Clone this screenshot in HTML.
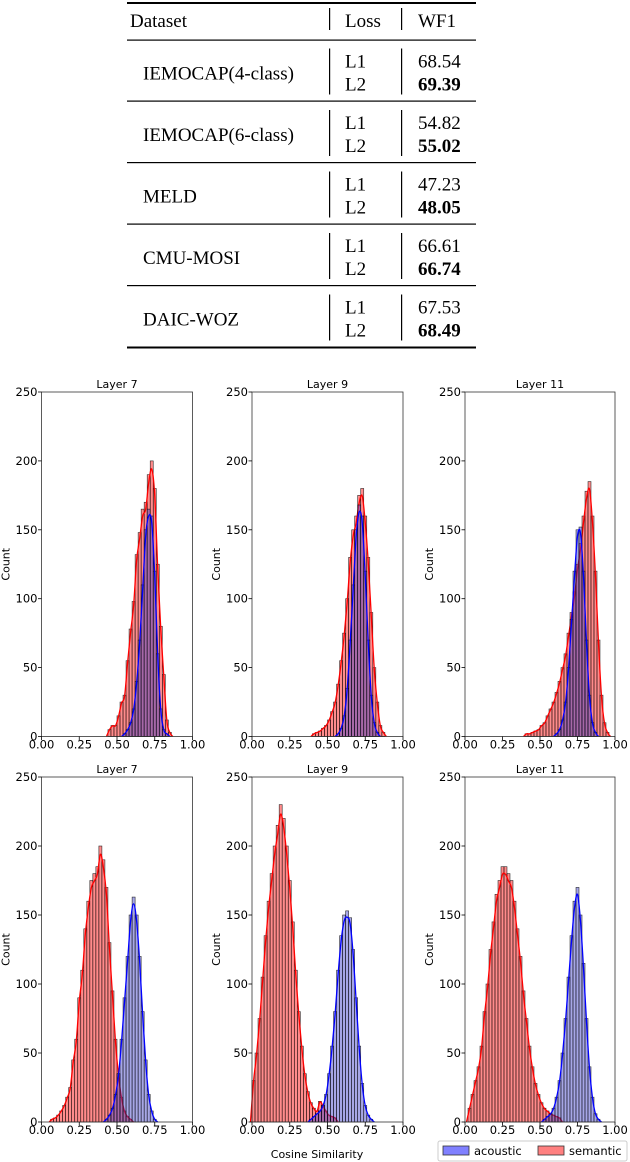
<!DOCTYPE html>
<html><head><meta charset="utf-8"><style>
html,body{margin:0;padding:0;background:#fff;}
svg{display:block;}
.tb{font-family:"Liberation Serif",serif;font-size:19px;fill:#000;}
.tk{font-family:"DejaVu Sans",sans-serif;font-size:11.5px;fill:#000;}
.tt{font-family:"DejaVu Sans",sans-serif;font-size:11px;fill:#000;}
</style></head><body>
<svg id="root" width="630" height="1162" viewBox="0 0 630 1162">
<g>
<rect x="127" y="2" width="349" height="2" fill="#000"/>
<rect x="127" y="39.5" width="349" height="1.2" fill="#000"/>
<rect x="127" y="100.5" width="349" height="1.2" fill="#000"/>
<rect x="127" y="162" width="349" height="1.2" fill="#000"/>
<rect x="127" y="223.5" width="349" height="1.2" fill="#000"/>
<rect x="127" y="285" width="349" height="1.2" fill="#000"/>
<rect x="127" y="346.5" width="349" height="2" fill="#000"/>
<text class="tb" x="130" y="27">Dataset</text>
<text class="tb" x="345" y="27">Loss</text>
<text class="tb" x="418" y="27">WF1</text>
<g id="rows"></g>
</g>
<g id="charts"></g>
<g>
<rect x="438" y="1141" width="189" height="20" fill="#fff" stroke="#ccc" rx="2"/>
<rect x="443" y="1146" width="26" height="9" fill="#8080ff" stroke="#333" stroke-width="0.8"/>
<text class="tk" x="474" y="1155">acoustic</text>
<rect x="538" y="1146" width="26" height="9" fill="#ff8080" stroke="#333" stroke-width="0.8"/>
<text class="tk" x="569" y="1155">semantic</text>
</g>
<text class="tt" x="317" y="1158" text-anchor="middle">Cosine Similarity</text>
</svg>
<script>
var NS="http://www.w3.org/2000/svg";
var datasets=["IEMOCAP(4-class)","IEMOCAP(6-class)","MELD","CMU-MOSI","DAIC-WOZ"];
var l1Scores=["68.54","54.82","47.23","66.61","67.53"];
var l2Scores=["69.39","55.02","48.05","66.74","68.49"];

var binWidth=0.02;
var xTicks=["0.00","0.25","0.50","0.75","1.00"];
var yTicks=[0,50,100,150,200,250];
var titles=["Layer 7","Layer 9","Layer 11","Layer 7","Layer 9","Layer 11"];
var semStart=[0.44,0.40,0.40,0.06,0.00,0.02];
var acoStart=[0.54,0.56,0.60,0.42,0.38,0.52];
var sem0=[5,8,8,15,25,30,55,78,98,132,148,165,170,190,200,180,125,80,45,12,3];
var aco0=[2,5,10,20,40,70,110,150,165,160,120,60,20,5,2];
var sem1=[2,3,4,6,8,12,18,25,38,55,75,100,130,150,160,175,180,160,130,90,50,25,8,3];
var aco1=[2,6,15,35,70,110,150,168,160,120,70,30,10,3];
var sem2=[2,2,3,4,5,8,10,15,20,25,32,40,50,60,75,90,105,125,140,160,178,185,160,120,70,30,10,3];
var aco2=[2,5,12,25,50,85,120,150,152,120,70,30,10,3];
var sem3=[2,3,5,8,12,18,25,45,60,90,110,140,160,175,180,185,200,190,170,130,95,60,35,18,8,4,2];
var aco3=[2,5,10,20,35,60,90,120,150,163,150,120,80,45,20,8,2];
var sem4=[30,50,75,105,135,160,180,200,215,230,220,200,175,145,110,80,55,35,22,14,10,8,15,12,8,5,4,3];
var aco4=[2,4,6,8,12,20,35,55,80,110,135,150,153,148,125,90,55,28,12,5,2];
var sem5=[10,20,30,40,55,80,100,125,145,165,175,185,185,180,175,160,140,120,95,75,55,40,28,20,14,10,8,6,5,4,3];
var aco5=[2,4,6,10,18,30,50,75,105,135,160,170,150,115,75,40,18,6,2];
var semSeries=[sem0,sem1,sem2,sem3,sem4,sem5];
var acoSeries=[aco0,aco1,aco2,aco3,aco4,aco5];

function mk(tag,attrs,parent){var e=document.createElementNS(NS,tag);for(var k in attrs)e.setAttribute(k,attrs[k]);parent.appendChild(e);return e;}

var rows=document.getElementById('rows');
datasets.forEach(function(d,i){
  var y0=40.5+i*61.5;
  var t=mk('text',{'class':'tb',x:143,y:y0+39},rows);t.textContent=d;
  
  
  var a=mk('text',{'class':'tb',x:345,y:y0+27},rows);a.textContent="L1";
  
  
  var b=mk('text',{'class':'tb',x:345,y:y0+50},rows);b.textContent="L2";
  
  
  var c=mk('text',{'class':'tb',x:418,y:y0+27},rows);c.textContent=l1Scores[i];
  
  
  var e=mk('text',{'class':'tb',x:418,y:y0+50,'font-weight':'bold'},rows);e.textContent=l2Scores[i];
  
  
});
[[329,4,38],[401,4,38]].forEach(function(v){var r=mk('rect',{x:v[0],y:v[1]+4,width:1.2,height:22,fill:'#000'},rows);});
for(var i=0;i<5;i++){var y0=40.5+i*61.5;[329,401].forEach(function(x){var r=mk('rect',{x:x,y:y0+8,width:1.2,height:46,fill:'#000'},rows);});}

var panelX=[[41.5,192.5],[252,403],[465,615]];
var panelY=[[392,736.5],[777,1122]];
var charts=document.getElementById('charts');

function smoothPath(pts){
  var d="M"+pts[0][0]+","+pts[0][1];
  for(var i=0;i<pts.length-1;i++){
    var p0=pts[Math.max(0,i-1)],p1=pts[i],p2=pts[i+1],p3=pts[Math.min(pts.length-1,i+2)];
    var c1x=p1[0]+(p2[0]-p0[0])/6,c1y=p1[1]+(p2[1]-p0[1])/6;
    var c2x=p2[0]-(p3[0]-p1[0])/6,c2y=p2[1]-(p3[1]-p1[1])/6;
    d+=" C"+c1x+","+c1y+" "+c2x+","+c2y+" "+p2[0]+","+p2[1];
  }
  return d;
}

for(var p=0;p<6;p++){
  var col=p%3,row=Math.floor(p/3);
  var x0=panelX[col][0],x1=panelX[col][1],yt=panelY[row][0],yb=panelY[row][1];
  var xs=function(v){return x0+v*(x1-x0);};
  var ys=function(v){return yb-v/250*(yb-yt);};
  var g=mk('g',{},charts);
  
  
  [[semSeries[p],semStart[p],'rgba(255,0,0,0.45)','#ff0000','semantic'],[acoSeries[p],acoStart[p],'rgba(60,60,200,0.45)','#0000ff','acoustic']].forEach(function(s){
    var pts=[];
    s[0].forEach(function(c,k){
      var lo=s[1]+k*binWidth;
      var r=mk('rect',{x:xs(lo),y:ys(c),width:xs(lo+binWidth)-xs(lo),height:ys(0)-ys(c),fill:s[2],stroke:'#000','stroke-width':0.6,'stroke-opacity':0.8},g);
      
      
      pts.push([xs(lo+binWidth/2),ys(c*0.97)]);
    });
    pts.unshift([xs(s[1]-binWidth/2),ys(0)]);
    pts.push([xs(s[1]+(s[0].length+0.5)*binWidth),ys(0)]);
    var l=mk('path',{d:smoothPath(pts),fill:'none',stroke:s[3],'stroke-width':1.3},g);
    
    
  });
  var fr=mk('rect',{x:x0,y:yt,width:x1-x0,height:yb-yt,fill:'none',stroke:'#333','stroke-width':0.8},g);
  
  
  xTicks.forEach(function(t,k){
    var xv=xs(k*0.25);
    var tl=mk('line',{x1:xv,x2:xv,y1:yb,y2:yb+3.5,stroke:'#000','stroke-width':0.8},g);
    
    
    var tx=mk('text',{'class':'tk',x:xv,y:yb+12,'text-anchor':'middle'},g);tx.textContent=t;
    
    
  });
  yTicks.forEach(function(t){
    var yv=ys(t);
    var tl=mk('line',{x1:x0-3.5,x2:x0,y1:yv,y2:yv,stroke:'#000','stroke-width':0.8},g);
    
    
    var tx=mk('text',{'class':'tk',x:x0-4,y:yv+4,'text-anchor':'end'},g);tx.textContent=t;
    
    
  });
  var ti=mk('text',{'class':'tt',x:(x0+x1)/2,y:yt-4,'text-anchor':'middle'},g);ti.textContent=titles[p];
  
  
  var yl=mk('text',{'class':'tt',x:0,y:0,'text-anchor':'middle',transform:'translate('+(x0-32)+','+((yt+yb)/2)+') rotate(-90)'},g);yl.textContent="Count";
  
  
}
</script>
</body></html>
